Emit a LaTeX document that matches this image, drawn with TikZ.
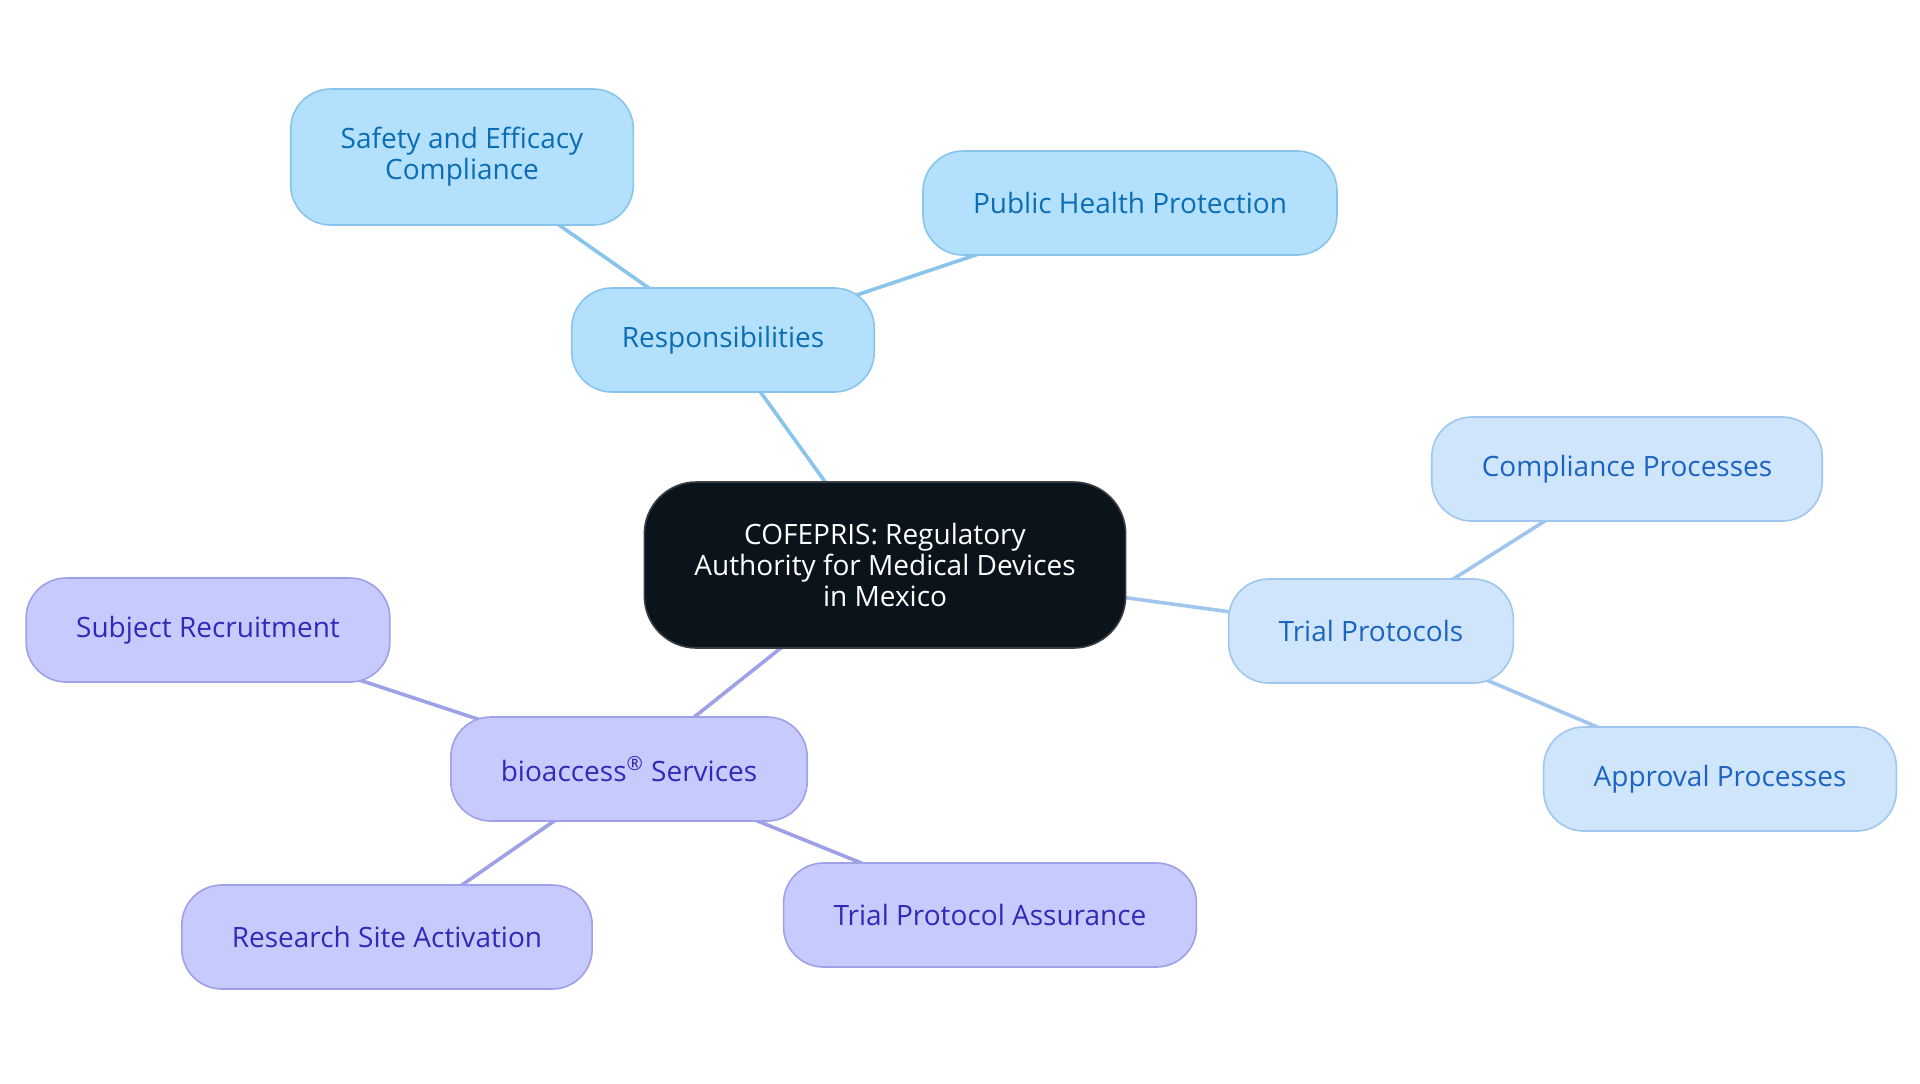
\documentclass[tikz,border=0pt]{standalone}
\usepackage{fontspec}
\usetikzlibrary{backgrounds}
\setmainfont{Open Sans}
\definecolor{respfill}{HTML}{B3E0FD}
\definecolor{respdraw}{HTML}{88C4EB}
\definecolor{resptext}{HTML}{0B6DB3}
\definecolor{trialfill}{HTML}{CFE5FC}
\definecolor{trialdraw}{HTML}{A0C6EE}
\definecolor{trialtext}{HTML}{1C64C2}
\definecolor{biofill}{HTML}{C7CAFD}
\definecolor{biodraw}{HTML}{9EA0E8}
\definecolor{biotext}{HTML}{3328B8}
\definecolor{rootfill}{HTML}{0C141B}
\definecolor{rootdraw}{HTML}{3A3F44}

\begin{document}
\begin{tikzpicture}[x=0.5pt,y=-0.5pt]
  \useasboundingbox (0,0) rectangle (1920,1083);
  \tikzstyle{Leaf}=[rounded corners=20pt,inner xsep=25pt,minimum height=52pt,
    align=center,line width=0.8pt,font=\fontsize{14}{15.6}\selectfont]
  \tikzstyle{RespStyle}=[Leaf,fill=respfill,draw=respdraw,text=resptext]
  \tikzstyle{TrialStyle}=[Leaf,fill=trialfill,draw=trialdraw,text=trialtext]
  \tikzstyle{BioStyle}=[Leaf,fill=biofill,draw=biodraw,text=biotext]
  \tikzstyle{RootStyle}=[Leaf,rounded corners=26pt,minimum height=83pt,
    fill=rootfill,draw=rootdraw,text=white]
  % root
  \node[RootStyle] (root) at (885,565)
    {COFEPRIS: Regulatory\\Authority for Medical Devices\\in Mexico};
  % responsibilities
  \node[RespStyle] (resp) at (723,340) {Responsibilities};
  \node[RespStyle,minimum height=68pt] (safety) at (462,157)
    {Safety and Efficacy\\Compliance};
  \node[RespStyle] (health) at (1130,203) {Public Health Protection};
  % trial protocols
  \node[TrialStyle] (trial) at (1371,631) {Trial Protocols};
  \node[TrialStyle] (compl) at (1627,469) {Compliance Processes};
  \node[TrialStyle] (appr) at (1720,779) {Approval Processes};
  % bioaccess
  \node[BioStyle] (bio) at (629,769) {bioaccess\textsuperscript{®} Services};
  \node[BioStyle] (subj) at (208,630) {Subject Recruitment};
  \node[BioStyle] (site) at (387,937) {Research Site Activation};
  \node[BioStyle] (assur) at (990,915) {Trial Protocol Assurance};
  \tikzstyle{EdgeStyle}=[line width=1.8pt]
  \begin{scope}[on background layer]
  \draw[EdgeStyle,respdraw] (root.center) -- (resp.center);
  \draw[EdgeStyle,respdraw] (resp.center) -- (safety.center);
  \draw[EdgeStyle,respdraw] (resp.center) -- (health.center);
  \draw[EdgeStyle,trialdraw] (root.center) -- (trial.center);
  \draw[EdgeStyle,trialdraw] (trial.center) -- (compl.center);
  \draw[EdgeStyle,trialdraw] (trial.center) -- (appr.center);
  \draw[EdgeStyle,biodraw] (root.center) -- (bio.center);
  \draw[EdgeStyle,biodraw] (bio.center) -- (subj.center);
  \draw[EdgeStyle,biodraw] (bio.center) -- (site.center);
  \draw[EdgeStyle,biodraw] (bio.center) -- (assur.center);
  \end{scope}
\end{tikzpicture}
\end{document}
